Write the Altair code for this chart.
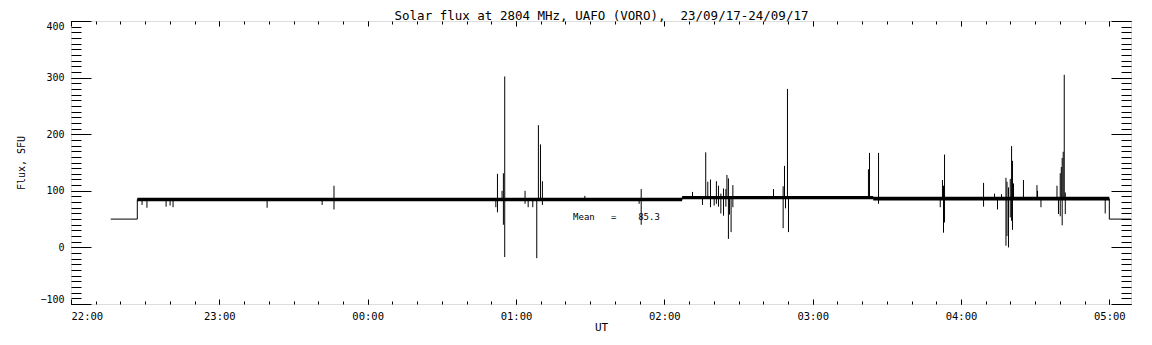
import altair as alt
import pandas as pd

# ---- data (time in hours after 22:00 UT, flux in SFU) ----
level_t = [0.268, 0.447, 0.447, 4.12, 4.12, 5.408, 5.408, 7.0, 7.0, 7.146]
level_v = [50, 50, 84.7, 84.7, 88, 88, 86, 86, 50, 50]

band_start = [0.447, 4.12, 5.408]
band_end = [4.12, 5.408, 7.0]
band_lo = [81.5, 85.0, 82.8]
band_hi = [87.9, 91.0, 89.6]

spike_t = [0.479, 0.512, 0.641, 0.668, 0.688, 1.322, 1.693, 1.773,
           2.864, 2.875, 2.906, 2.915, 2.924, 3.061, 3.082, 3.113, 3.140, 3.151,
           3.165, 3.178, 3.464, 3.830, 3.844,
           4.190, 4.257, 4.279, 4.293, 4.311, 4.336, 4.351, 4.365, 4.381, 4.399,
           4.415, 4.422, 4.432, 4.439, 4.450, 4.462, 4.736, 4.801, 4.810, 4.817,
           4.830, 4.837, 5.376, 5.383,
           5.444, 5.860, 5.875, 5.882, 5.889, 6.152, 6.226, 6.246, 6.273, 6.303,
           6.310, 6.320, 6.332, 6.341, 6.347, 6.354, 6.421, 6.512, 6.516, 6.539,
           6.647, 6.657, 6.669, 6.676, 6.682, 6.689, 6.696, 6.703, 6.972]
spike_hi = [85, 85, 85, 85, 85, 85, 85, 109,
            85, 130, 100, 131, 302, 100, 85, 85, 85, 216,
            182, 117, 91, 85, 103,
            98, 88, 168, 116, 120, 88, 117, 109, 95, 104,
            103, 128, 122, 88, 88, 110, 103, 108, 144, 88,
            280, 88, 138, 167,
            167, 86, 119, 109, 164, 114, 95, 86, 94, 123,
            116, 106, 121, 179, 153, 113, 119, 110, 100, 86,
            109, 86, 131, 142, 158, 169, 305, 97, 86]
spike_lo = [75, 70, 72, 74, 71, 70, 75, 67,
            71, 62, 85, 40, -17, 77, 71, 71, -19, 85,
            85, 75, 85, 77, 40,
            88, 75, 88, 88, 71, 74, 77, 72, 60, 56,
            72, 88, 15, 58, 27, 71, 88, 34, 88, 69,
            88, 27, 88, 88,
            77, 71, 86, 26, 44, 72, 86, 67, 86, 3,
            20, 0, 53, 47, 31, 86, 86, 86, 86, 71,
            86, 59, 55, 86, 39, 86, 86, 59, 60]

mean_t = [3.385]
mean_v = [49]
mean_text = ["Mean\u00a0\u00a0\u00a0=\u00a0\u00a0\u00a0\u00a085.3"]

hour_ticks = [0, 1, 2, 3, 4, 5, 6, 7]
hour_labels = ["22:00", "23:00", "00:00", "01:00", "02:00", "03:00", "04:00", "05:00"]
minor_x = [i / 6 for i in range(43)]
major_y = [-100, 0, 100, 200, 300, 400]
minor_y = list(range(-100, 401, 10))

title_text = "Solar flux at 2804 MHz, UAFO (VORO),\u00a0\u00a023/09/17-24/09/17"

# ---- tables ----
level_df = pd.DataFrame({"t": level_t, "v": level_v, "i": range(len(level_t))})
band_df = pd.DataFrame({"s": band_start, "e": band_end, "lo": band_lo, "hi": band_hi})
spike_df = pd.DataFrame({"t": spike_t, "hi": spike_hi, "lo": spike_lo})
mean_df = pd.DataFrame({"t": mean_t, "v": mean_v, "txt": mean_text})

W, H = 1060, 283
FONT = "DejaVu Sans Mono"
xs = alt.Scale(domain=[0, 7.146], nice=False, zero=False)
ys = alt.Scale(domain=[-100, 400], nice=False, zero=False)

label_expr = "[" + ",".join("'%s'" % s for s in hour_labels) + "][datum.value]"


def tick_axis(orient, offset, values, size, **kw):
    opts = dict(orient=orient, offset=offset, values=values, tickSize=size,
                labels=False, title=None, domain=False, grid=False,
                ticks=True, tickColor="black", tickWidth=1)
    opts.update(kw)
    return alt.Axis(**opts)


line = alt.Chart(level_df).mark_line(color="black", strokeWidth=1).encode(
    x=alt.X("t:Q", scale=xs, axis=alt.Axis(
        orient="bottom", title="UT", values=hour_ticks, labelExpr=label_expr,
        ticks=False, tickSize=0, domain=False, grid=False,
        labelFont=FONT, labelFontSize=10.5, labelPadding=7, labelColor="black",
        titleFont=FONT, titleFontSize=11, titleFontWeight="normal", titleColor="black",
        titleY=17, titleBaseline="top")),
    y=alt.Y("v:Q", scale=ys, axis=alt.Axis(
        orient="left", title="Flux, SFU", values=major_y, ticks=False, tickSize=0,
        domain=False, grid=False, labelFlush=True, labelFlushOffset=0,
        labelFont=FONT, labelFontSize=10, labelPadding=7, labelColor="black",
        titleFont=FONT, titleFontSize=10, titleFontWeight="normal", titleColor="black",
        titleX=-50, titleY=H / 2, titleAngle=270, titleAlign="center",
        titleBaseline="middle")),
    order="i:Q",
)

band = alt.Chart(band_df).mark_rect(color="black").encode(
    x=alt.X("s:Q", scale=xs, axis=tick_axis("top", -H, hour_ticks, 5)),
    x2="e:Q",
    y=alt.Y("lo:Q", scale=ys, axis=tick_axis("right", -W, major_y, 20)),
    y2="hi:Q",
)

spikes = alt.Chart(spike_df).mark_rule(color="black", strokeWidth=1).encode(
    x=alt.X("t:Q", scale=xs, axis=tick_axis("top", -H, minor_x, 3)),
    y=alt.Y("lo:Q", scale=ys, axis=tick_axis("right", -W, minor_y, 10)),
    y2="hi:Q",
)

# this layer's top-edge axis also carries the chart title
mean_lbl = alt.Chart(mean_df).mark_text(
    font=FONT, fontSize=9, align="left", baseline="alphabetic", color="black"
).encode(
    x=alt.X("t:Q", scale=xs, axis=tick_axis(
        "bottom", -H, hour_ticks, 5, title=title_text, titleFont=FONT,
        titleFontSize=12.5, titleFontWeight="normal", titleColor="black",
        titleX=W / 2, titleY=-1.2, titleAlign="center", titleBaseline="alphabetic")),
    y=alt.Y("v:Q", scale=ys, axis=tick_axis("left", -W, major_y, 20)),
    text="txt:N",
)

ghost = alt.Chart(level_df).mark_line(strokeOpacity=0).encode(
    x=alt.X("t:Q", scale=xs, axis=tick_axis("bottom", -H, minor_x, 3)),
    y=alt.Y("v:Q", scale=ys, axis=tick_axis("left", -W, minor_y, 10)),
    order="i:Q",
)

chart = alt.layer(band, line, spikes, mean_lbl, ghost).resolve_axis(
    x="independent", y="independent"
).properties(
    width=W, height=H,
    autosize=alt.AutoSizeParams(type="none"),
    padding={"left": 63, "top": 13, "right": 13, "bottom": 30},
).configure_view(stroke="black", strokeWidth=1).configure(background="white")

chart.save("out.html", embed_options={"renderer": "svg", "actions": False})
